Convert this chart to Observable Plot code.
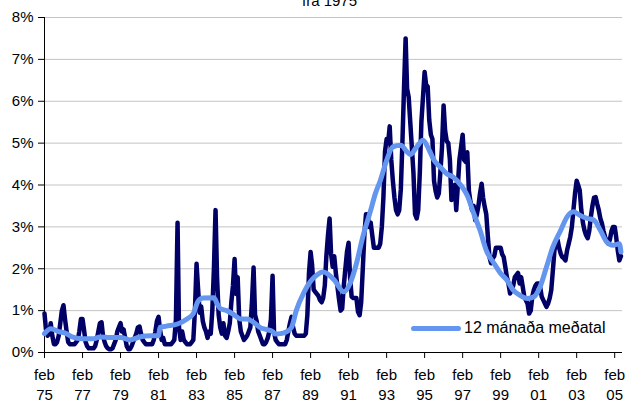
<!DOCTYPE html>
<html><head><meta charset="utf-8">
<script src="https://cdn.jsdelivr.net/npm/d3@7"></script>
<script src="https://cdn.jsdelivr.net/npm/@observablehq/plot@0.6"></script>
<style>
body{margin:0;background:#fff;font-family:"Liberation Sans",Arial,sans-serif;}
#wrap{position:relative;width:626px;height:403px;overflow:hidden;}
#legend{position:absolute;left:411px;top:319px;display:flex;align-items:center;font-size:16px;line-height:18px;color:#000;white-space:nowrap;}
#legend .sw{width:50px;height:5px;background:#6496f0;border-radius:3px;margin-right:3px;}
</style></head><body>
<div id="wrap"><div id="legend"><span class="sw"></span><span>12 mánaða meðatal</span></div></div>
<script>
// Monthly unemployment rate (%), starting February 1975
const monthlyRate = [
  /*1975 feb-dec*/ 0.93,0.55,0.40,0.45,0.70,0.40,0.20,0.20,0.25,0.40,0.70,
  /*1976*/ 1.00,1.13,0.80,0.50,0.25,0.20,0.20,0.20,0.20,0.25,0.30,0.50,
  /*1977*/ 0.80,0.80,0.55,0.25,0.15,0.10,0.10,0.10,0.10,0.15,0.30,0.50,
  /*1978*/ 0.70,0.72,0.40,0.25,0.15,0.10,0.08,0.08,0.10,0.20,0.30,0.50,
  /*1979*/ 0.60,0.70,0.50,0.55,0.35,0.15,0.08,0.08,0.15,0.25,0.35,0.45,
  /*1980*/ 0.60,0.62,0.45,0.30,0.25,0.20,0.20,0.20,0.20,0.20,0.30,0.50,
  /*1981*/ 0.75,0.85,0.55,0.30,0.35,0.20,0.20,0.20,0.20,0.20,0.25,0.30,
  /*1982*/ 0.80,3.10,0.60,0.30,0.50,0.30,0.25,0.20,0.20,0.20,0.25,0.30,
  /*1983*/ 1.00,2.12,1.55,0.95,1.10,0.75,0.60,0.50,0.35,0.50,0.45,1.00,
  /*1984*/ 2.00,3.40,1.80,0.90,0.60,0.45,0.70,0.40,0.35,0.50,0.70,1.20,
  /*1985*/ 1.60,2.23,1.40,1.80,0.80,0.50,0.40,0.30,0.35,0.40,0.50,0.60,
  /*1986*/ 1.20,2.03,0.90,0.75,0.50,0.40,0.30,0.20,0.20,0.25,0.35,0.50,
  /*1987*/ 0.80,1.83,0.50,0.30,0.25,0.20,0.20,0.20,0.20,0.20,0.30,0.50,
  /*1988*/ 0.70,0.85,0.60,0.45,0.40,0.40,0.40,0.40,0.40,0.40,0.45,0.90,
  /*1989*/ 1.90,2.40,2.10,1.50,1.45,1.40,1.35,1.25,1.20,1.30,1.60,2.30,
  /*1990*/ 2.80,3.20,2.36,2.05,2.30,1.90,1.58,1.27,1.00,1.05,1.60,2.00,
  /*1991*/ 2.40,2.62,1.80,1.33,1.30,1.30,1.30,0.97,0.89,1.20,2.00,2.80,
  /*1992*/ 3.30,3.30,3.00,3.10,2.80,2.50,2.50,2.50,2.50,2.60,3.00,3.70,
  /*1993*/ 4.80,5.10,5.00,5.40,4.60,4.10,3.70,3.40,3.30,3.40,3.90,5.00,
  /*1994*/ 6.30,7.50,6.30,6.10,5.50,4.90,4.30,3.30,3.20,3.40,4.30,5.50,
  /*1995*/ 6.10,6.70,6.40,6.35,5.55,5.20,5.10,4.10,3.85,3.70,3.80,4.30,
  /*1996*/ 4.90,5.90,5.30,5.05,5.00,4.60,3.64,3.95,4.00,3.40,4.00,4.60,
  /*1997*/ 4.90,5.20,4.60,4.55,4.78,3.86,3.60,3.40,3.50,3.16,3.30,3.50,
  /*1998*/ 3.80,4.03,3.70,3.48,3.30,2.76,2.28,2.13,2.25,2.30,2.50,2.50,
  /*1999*/ 2.50,2.50,2.35,2.28,2.05,1.80,1.65,1.41,1.49,1.60,1.80,1.85,
  /*2000*/ 1.90,1.65,1.80,1.57,1.33,1.25,1.17,0.93,1.00,1.33,1.50,1.60,
  /*2001*/ 1.65,1.65,1.57,1.33,1.25,1.17,1.09,1.17,1.30,1.49,1.96,2.44,
  /*2002*/ 2.60,2.68,2.50,2.36,2.28,2.25,2.20,2.44,2.60,2.76,3.00,3.40,
  /*2003*/ 3.80,4.10,4.00,3.87,3.40,3.10,2.92,2.80,2.73,2.90,3.24,3.50,
  /*2004*/ 3.70,3.71,3.55,3.40,3.20,3.08,2.90,2.76,2.65,2.60,2.70,2.90,
  /*2005 jan-jun*/ 3.00,3.00,2.76,2.44,2.20,2.30
];

// 12-month average, read at month offsets from February 1975
const avgMonthIndex = [0,4,9,14,17,24,31,35,42,48,54,60,67,72,73,77,84,90,94,97,100,107,109,111,115,119,124,128,132,136,140,144,146,149,153,156,159,164,168,172,176,183,189,193,197,201,206,209,212,216,220,225,229,231,235,239,243,246,250,254,258,263,267,271,275,279,284,288,292,296,300,305,309,313,317,321,326,330,334,338,343,347,351,355,359,363,364];
const avgRate = [0.45,0.57,0.5,0.45,0.38,0.33,0.33,0.37,0.36,0.36,0.3,0.37,0.4,0.4,0.6,0.63,0.68,0.8,0.93,1.22,1.3,1.31,1.17,1.05,1.0,0.92,0.8,0.8,0.72,0.6,0.55,0.5,0.44,0.45,0.5,0.6,1.0,1.45,1.7,1.85,1.92,1.73,1.45,1.65,2.12,2.76,3.4,3.8,4.1,4.59,4.91,4.95,4.79,4.73,4.91,5.07,4.83,4.59,4.43,4.27,4.19,3.99,3.75,3.32,2.92,2.44,2.12,1.89,1.73,1.49,1.37,1.29,1.33,1.57,2.04,2.52,2.92,3.24,3.36,3.28,3.2,3.16,2.92,2.64,2.56,2.6,2.4];

const tickYears = [1975,1977,1979,1981,1983,1985,1987,1989,1991,1993,1995,1997,1999,2001,2003,2005];
const yTicks = [0,1,2,3,4,5,6,7,8];
const titleText = "frá 1975";

const monthDate = i => new Date(Date.UTC(1975, 1 + i, 1));
const monthly = monthlyRate.map((v, i) => ({date: monthDate(i), rate: v}));
const average = avgMonthIndex.map((m, i) => ({date: monthDate(m), rate: avgRate[i]}));
const tickDates = tickYears.map(y => new Date(Date.UTC(y, 1, 1)));
const xDomain = [monthDate(0), monthDate(monthlyRate.length)];

const chart = Plot.plot({
  width: 626, height: 403,
  marginTop: 17, marginBottom: 51, marginLeft: 44, marginRight: 4,
  style: {fontFamily: '"Liberation Sans", Arial, sans-serif', fontSize: "15px", color: "#000", background: "#fff", overflow: "visible"},
  x: {type: "utc", domain: xDomain, label: null},
  y: {domain: [0, 8], label: null},
  marks: [
    Plot.gridY(yTicks.slice(1), {stroke: "#c4c4c4", strokeOpacity: 1}),
    Plot.axisY(yTicks, {tickFormat: d => d + "%", tickSize: 6, tickPadding: 5, fontSize: 15, label: null}),
    Plot.ruleX([xDomain[0]], {stroke: "#000"}),
    Plot.ruleY([0], {stroke: "#000"}),
    Plot.axisX(tickDates, {tickFormat: () => "feb", tickSize: 6, tickPadding: 11, fontSize: 15, label: null}),
    Plot.axisX(tickDates, {tickFormat: d => String(d.getUTCFullYear() % 100).padStart(2, "0"), tickSize: 0, tickPadding: 37, fontSize: 15, label: null}),
    Plot.line(monthly, {x: "date", y: "rate", stroke: "#000066", strokeWidth: 4.5, strokeLinejoin: "round"}),
    Plot.line(average, {x: "date", y: "rate", stroke: "#6496f0", strokeWidth: 5, curve: "monotone-x"}),
    Plot.text([titleText], {frameAnchor: "top", dx: -4, dy: -22, fontSize: 15})
  ]
});
document.getElementById("wrap").prepend(chart);
</script>
</body></html>
